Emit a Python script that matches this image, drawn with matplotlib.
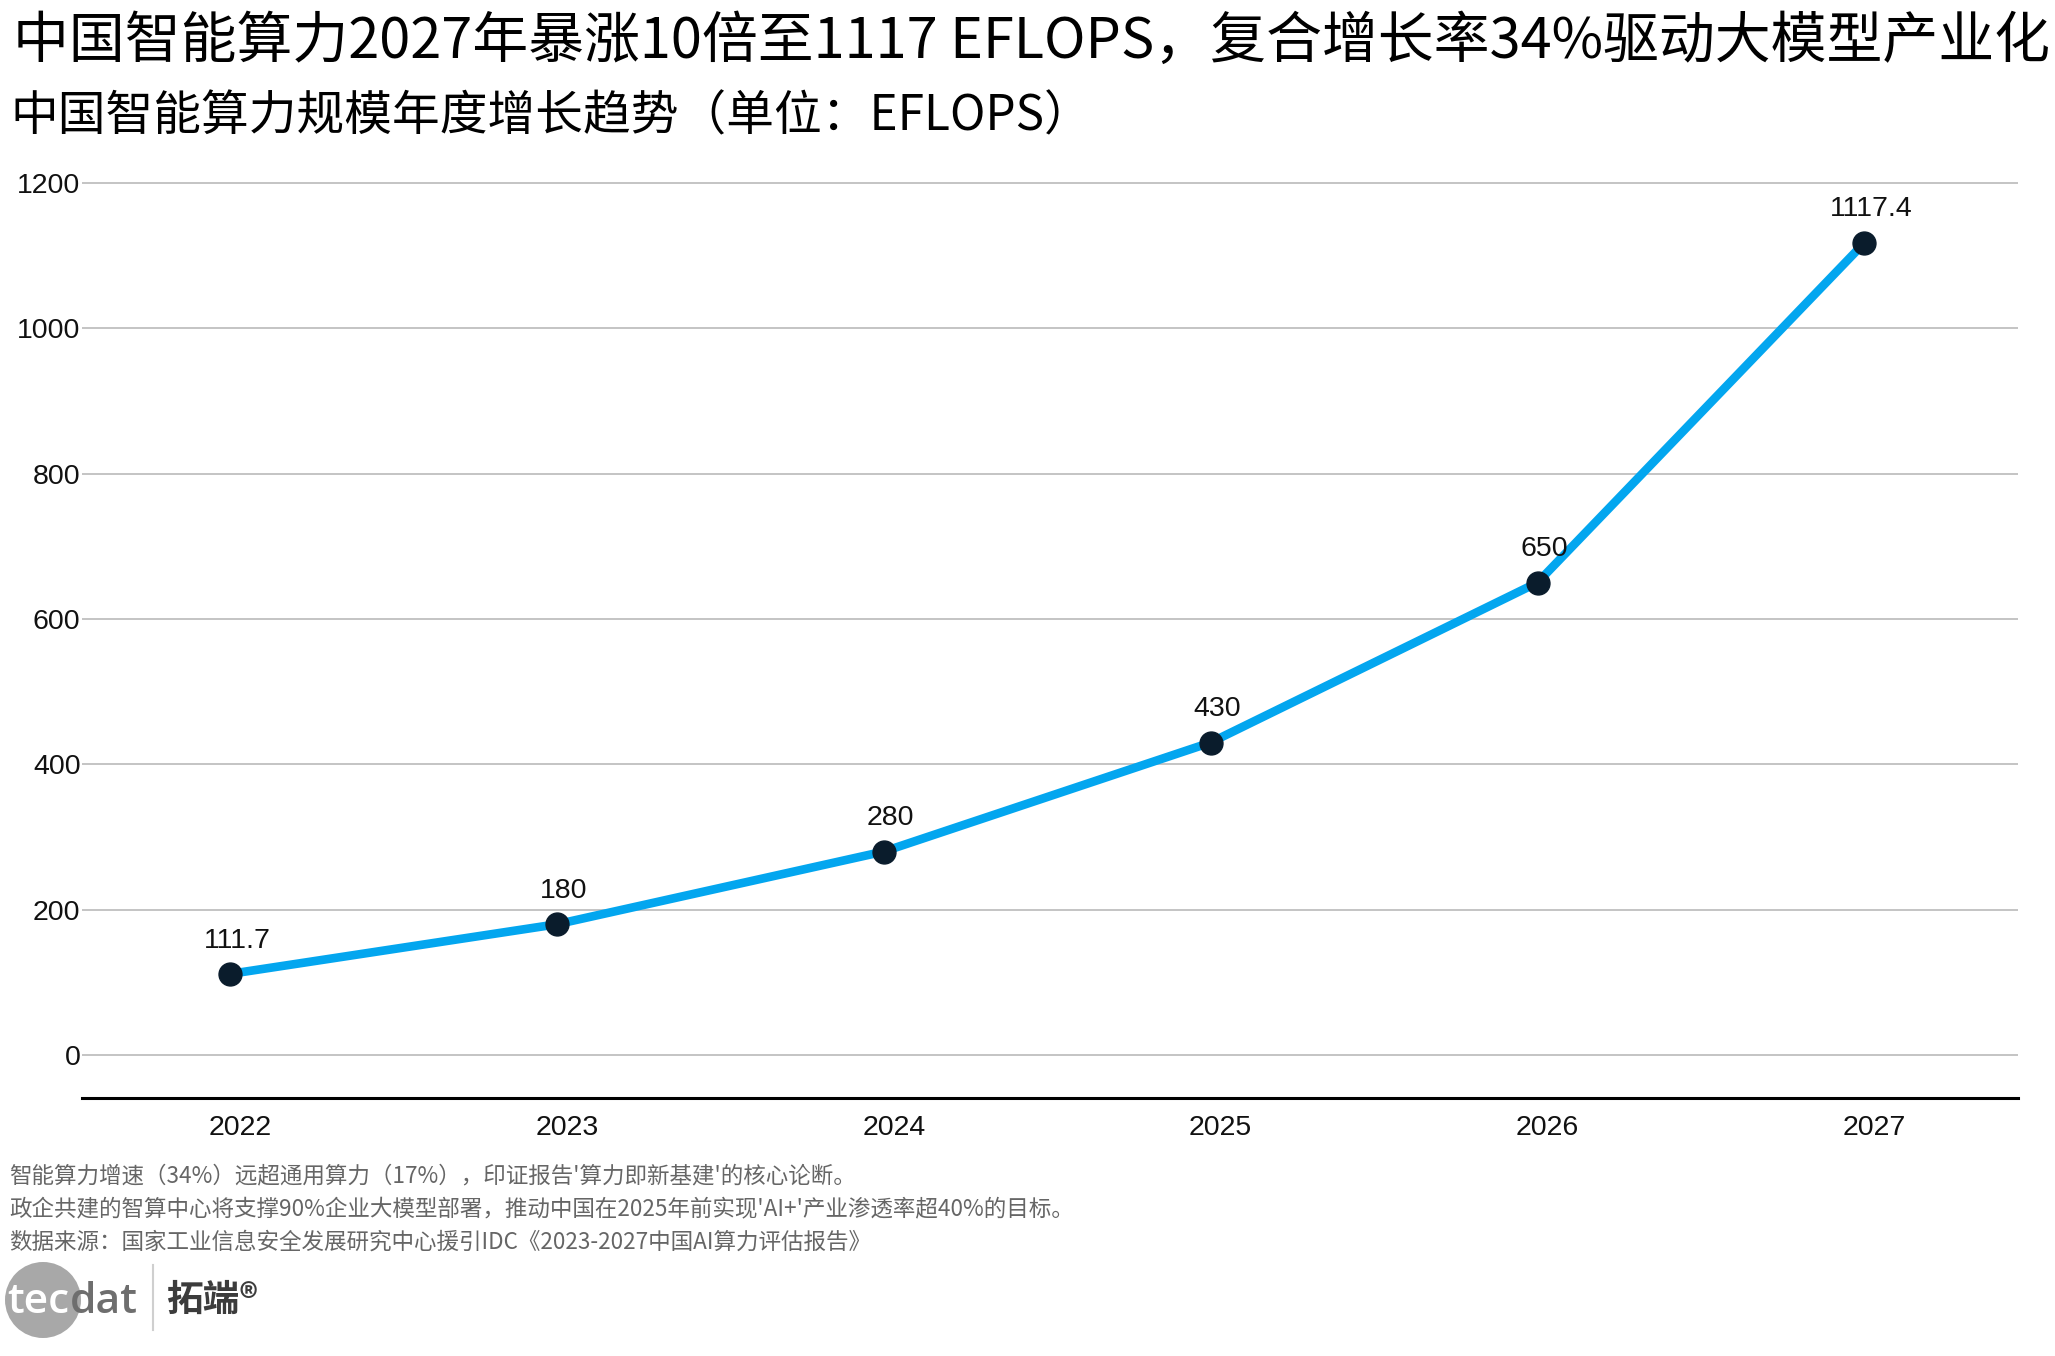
import matplotlib
matplotlib.use("Agg")
import matplotlib.pyplot as plt
import matplotlib.transforms as mtransforms
from matplotlib.patches import Ellipse
from matplotlib.lines import Line2D

# ---- data ----
years = ["2022", "2023", "2024", "2025", "2026", "2027"]
values = [111.7, 180, 280, 430, 650, 1117.4]
value_labels = ["111.7", "180", "280", "430", "650", "1117.4"]
yticks = [0, 200, 400, 600, 800, 1000, 1200]

title = "中国智能算力2027年暴涨10倍至1117 EFLOPS，复合增长率34%驱动大模型产业化"
subtitle = "中国智能算力规模年度增长趋势（单位：EFLOPS）"
notes = [
    "智能算力增速（34%）远超通用算力（17%），印证报告'算力即新基建'的核心论断。",
    "政企共建的智算中心将支撑90%企业大模型部署，推动中国在2025年前实现'AI+'产业渗透率超40%的目标。",
    "数据来源：国家工业信息安全发展研究中心援引IDC《2023-2027中国AI算力评估报告》",
]

W, H = 2055, 1356
CJK = ["Noto Sans CJK SC", "DejaVu Sans"]
LAT = ["Liberation Sans", "DejaVu Sans"]
LOGO = ["Open Sans", "DejaVu Sans"]

fig = plt.figure(figsize=(W / 100, H / 100), dpi=100)
fig.patch.set_facecolor("white")

def fx(px):
    return px / W

def fy(py):
    return 1 - py / H

# axes
ax = fig.add_axes([fx(82), fy(1098), fx(2018) - fx(82), fy(182) - fy(1098)])
x = list(range(len(years)))
ax.plot(x, values, color="#03A6EF", lw=6.2, solid_capstyle="round", zorder=3)
ax.plot(x, values, "o", color="#0A1C2C", markersize=16.5, zorder=4)
for xi, v, lab in zip(x, values, value_labels):
    ax.annotate(lab, (xi, v), xytext=(5, 24), textcoords="offset points",
                ha="center", va="center", fontsize=20.5, family=LAT, color="#111111", zorder=5)

ax.set_xlim(-0.453, 5.47)
ax.set_ylim(-59, 1201)
ax.set_yticks(yticks)
ax.set_yticklabels([str(t) for t in yticks], family=LAT, fontsize=20.5, color="#111111")
ax.set_xticks(x)
ax.set_xticklabels(years, family=LAT, fontsize=20.5, color="#111111")
ax.tick_params(axis="both", length=0)
ax.tick_params(axis="y", pad=1)
ax.tick_params(axis="x", pad=12)
offset = mtransforms.ScaledTranslation(10 / 100, 0, fig.dpi_scale_trans)
for lbl in ax.get_xticklabels():
    lbl.set_transform(lbl.get_transform() + offset)
ax.grid(axis="y", color="#c4c4c4", lw=1.4)
ax.set_axisbelow(True)
for s in ["top", "right", "left"]:
    ax.spines[s].set_visible(False)
ax.spines["bottom"].set_color("#000000")
ax.spines["bottom"].set_linewidth(2.2)

renderer = fig.canvas.get_renderer()

def fit(t, target_w):
    w = t.get_window_extent(renderer).width
    t.set_fontsize(t.get_fontsize() * target_w / w)

t1 = fig.text(fx(13), fy(42), title, family=CJK, fontsize=36, color="#000000", ha="left", va="center")
fit(t1, 2039)
t2 = fig.text(fx(10), fy(117), subtitle, family=CJK, fontsize=30, color="#000000", ha="left", va="center")
fit(t2, 1080)

note_y = [1176, 1209, 1242]
n_objs = []
for txt, yy in zip(notes, note_y):
    n_objs.append(fig.text(fx(9), fy(yy), txt, family=CJK, fontsize=15, color="#666666", ha="left", va="center"))
w2 = n_objs[1].get_window_extent(renderer).width
fs = 15 * 1068 / w2
for n in n_objs:
    n.set_fontsize(fs)

# logo
fig.patches.append(Ellipse((fx(43), fy(1300)), 76 / W, 76 / H, transform=fig.transFigure,
                           facecolor="#a8a8a8", edgecolor="none", zorder=1))
probe = fig.text(0, 0, "tecdat", family=LOGO, fontsize=30, fontweight="semibold")
pw = probe.get_window_extent(renderer).width
logo_fs = 30 * 130 / pw
probe.remove()
tl = fig.text(fx(7), fy(1302), "tec", family=LOGO, fontsize=logo_fs, fontweight="semibold",
              color="white", ha="left", va="center", zorder=3)
r = tl.get_window_extent(renderer)
td = fig.text((r.x1 + 1) / W, fy(1302), "dat", family=LOGO, fontsize=logo_fs, fontweight="semibold",
              color="#6e6e6e", ha="left", va="center", zorder=3)
fig.add_artist(Line2D([fx(153), fx(153)], [fy(1265), fy(1330)], transform=fig.transFigure,
                      color="#cfcfcf", lw=1.5))
tb = fig.text(fx(166), fy(1300), "拓端®", family=CJK, fontsize=22, fontweight="bold",
              color="#3c3c3c", ha="left", va="center")
fit(tb, 92)

fig.savefig("out.png", dpi=100, facecolor="white")
